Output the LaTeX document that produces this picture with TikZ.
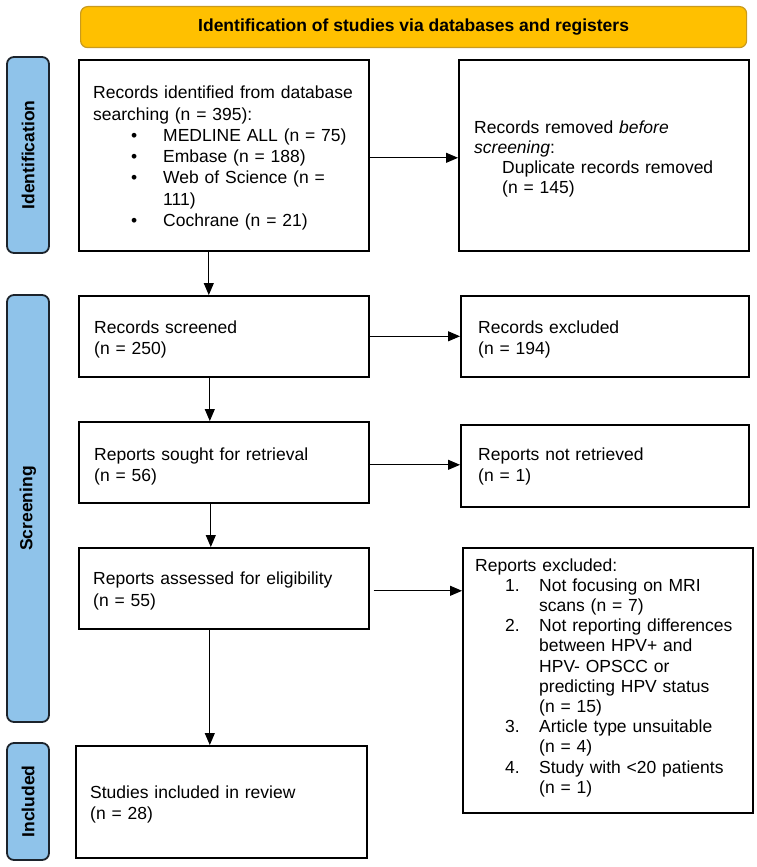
\documentclass[tikz,border=0pt]{standalone}
\usepackage{fontspec}
\setmainfont{Liberation Sans}
\usetikzlibrary{arrows.meta,calc}
\definecolor{bannerfill}{HTML}{FFC000}
\definecolor{bannerdraw}{HTML}{C99A1E}
\definecolor{barfill}{HTML}{8FC3EA}
\definecolor{bardraw}{HTML}{1C232B}
\begin{document}
\begin{tikzpicture}[x=1pt,y=-1pt,
  box/.style={draw=black, line width=1.6pt, inner sep=0pt, anchor=north west},
  txt/.style={anchor=base west, inner sep=0pt, text width=285pt, align=left,
    font=\fontsize{17.5}{21.2}\selectfont},
  bar/.style={draw=bardraw, fill=barfill, line width=1.8pt, rounded corners=7pt,
    rotate=90, inner sep=0pt, font=\fontsize{17.5}{21}\selectfont\bfseries},
  banner/.style={draw=bannerdraw, fill=bannerfill, line width=1.2pt, rounded corners=7pt,
    anchor=north west, inner sep=0pt, font=\fontsize{17.5}{21}\selectfont\bfseries},
  arr/.style={line width=1pt, -{Triangle[length=12pt,width=10pt]}}
]
\useasboundingbox (0,0) rectangle (757,867);

% banner
\node[banner, minimum width=666pt, minimum height=41pt] (ban) at (80,6)
  {Identification of studies via databases and registers};

% phase bars
\node[bar, minimum width=196pt, minimum height=42pt] (idbar) at (28,155) {Identification};
\node[bar, minimum width=427pt, minimum height=42pt] (scbar) at (28,508.5) {Screening};
\node[bar, minimum width=117pt, minimum height=42pt] (inbar) at (28,801.5) {Included};

% boxes
\node[box, minimum width=290pt, minimum height=191pt] (b1) at (78,59) {};
\node[box, minimum width=290pt, minimum height=191pt] (b2) at (458,59) {};
\node[box, minimum width=290pt, minimum height=81pt] (b3) at (78,295) {};
\node[box, minimum width=288pt, minimum height=81pt] (b4) at (460,295) {};
\node[box, minimum width=290pt, minimum height=81pt] (b5) at (78,421) {};
\node[box, minimum width=288pt, minimum height=82pt] (b6) at (460,424) {};
\node[box, minimum width=290pt, minimum height=81pt] (b7) at (78,547) {};
\node[box, minimum width=290pt, minimum height=265pt] (b8) at (462,547) {};
\node[box, minimum width=291pt, minimum height=112pt] (b9) at (75,745) {};

% texts
\node[txt] (t1) at (93,99) {Records identified from database\\
searching (n = 395):\\
\hspace*{38pt}\makebox[32pt][l]{•}MEDLINE ALL (n = 75)\\
\hspace*{38pt}\makebox[32pt][l]{•}Embase (n = 188)\\
\hspace*{38pt}\makebox[32pt][l]{•}Web of Science (n =\\
\hspace*{70pt}111)\\
\hspace*{38pt}\makebox[32pt][l]{•}Cochrane (n = 21)};

\node[txt, font=\fontsize{17.5}{20}\selectfont] (t2) at (474,133) {Records removed \textit{before}\\
\textit{screening}:\\
\hspace*{28pt}Duplicate records removed\\
\hspace*{28pt}(n = 145)};

\node[txt] (t3) at (94,333) {Records screened\\(n = 250)};
\node[txt] (t4) at (478,333) {Records excluded\\(n = 194)};
\node[txt] (t5) at (94,460) {Reports sought for retrieval\\(n = 56)};
\node[txt] (t6) at (478,460) {Reports not retrieved\\(n = 1)};
\node[txt, font=\fontsize{17.5}{22}\selectfont] (t7) at (93,584) {Reports assessed for eligibility\\(n = 55)};

\node[txt, font=\fontsize{17.5}{20.2}\selectfont] (t8) at (475,571) {Reports excluded:\\
\hspace*{30pt}\makebox[34pt][l]{1.}Not focusing on MRI\\
\hspace*{64pt}scans (n = 7)\\
\hspace*{30pt}\makebox[34pt][l]{2.}Not reporting differences\\
\hspace*{64pt}between HPV+ and\\
\hspace*{64pt}HPV- OPSCC or\\
\hspace*{64pt}predicting HPV status\\
\hspace*{64pt}(n = 15)\\
\hspace*{30pt}\makebox[34pt][l]{3.}Article type unsuitable\\
\hspace*{64pt}(n = 4)\\
\hspace*{30pt}\makebox[34pt][l]{4.}Study with <20 patients\\
\hspace*{64pt}(n = 1)};

\node[txt] (t9) at (90,798) {Studies included in review\\(n = 28)};

% connectors
\draw[arr] ([yshift=-2.5pt]b1.east) -- ([yshift=-2.5pt]b1.east -| b2.west);
\draw[arr] ([xshift=-15pt]b1.south) -- ([xshift=-15pt]b1.south |- b3.north);
\draw[arr] (b3.east) -- (b3.east -| b4.west);
\draw[arr] ([xshift=-14pt]b3.south) -- ([xshift=-14pt]b3.south |- b5.north);
\draw[arr] ([yshift=-2.5pt]b5.east) -- ([yshift=-2.5pt]b5.east -| b6.west);
\draw[arr] ([xshift=-13pt]b5.south) -- ([xshift=-13pt]b5.south |- b7.north);
\draw[arr, shorten <=4pt] ([yshift=-2.5pt]b7.east) -- ([yshift=-2.5pt]b7.east -| b8.west);
\draw[arr] ([xshift=-14pt]b7.south) -- ([xshift=-14pt]b7.south |- b9.north);
\end{tikzpicture}
\end{document}
